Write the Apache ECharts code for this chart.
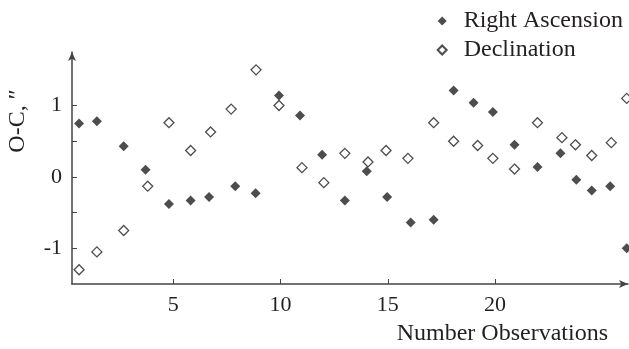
<!DOCTYPE html>
<html>
<head>
<meta charset="utf-8">
<script src="https://cdn.jsdelivr.net/npm/echarts@6/dist/echarts.min.js"></script>
<style>
  html, body { margin: 0; padding: 0; background: #fff; }
  #chart { width: 629px; height: 349px; }
</style>
</head>
<body>
<div id="chart"></div>
<script>
const raObs = [0.61, 1.44, 2.69, 3.71, 4.80, 5.81, 6.67, 7.89, 8.84, 9.93, 10.91, 11.94, 13.0, 14.02,
  14.97, 16.07, 17.14, 18.07, 19.0, 19.9, 20.91, 21.98, 23.05, 23.79, 24.51, 25.37, 26.14]
const raValues = [0.75, 0.78, 0.43, 0.10, -0.38, -0.33, -0.28, -0.13, -0.23, 1.14, 0.86, 0.31, -0.33, 0.08,
  -0.28, -0.64, -0.60, 1.21, 1.04, 0.91, 0.45, 0.14, 0.33, -0.04, -0.19, -0.13, -1.00]

const decObs = [0.61, 1.44, 2.69, 3.81, 4.80, 5.81, 6.74, 7.70, 8.86, 9.93, 11.0, 12.02, 13.0, 14.08,
  14.92, 15.94, 17.14, 18.07, 19.19, 19.9, 20.91, 21.98, 23.12, 23.75, 24.51, 25.42, 26.14]
const decValues = [-1.30, -1.05, -0.75, -0.13, 0.76, 0.37, 0.63, 0.95, 1.50, 1.00, 0.13, -0.08, 0.33, 0.21,
  0.37, 0.26, 0.76, 0.50, 0.44, 0.26, 0.11, 0.76, 0.55, 0.45, 0.30, 0.48, 1.10]

const xTicks = [5, 10, 15, 20]
const yTicks = [-1, -0.5, 0, 0.5, 1]
const yLabels = [-1, 0, 1]

const ink = '#231f20'
const font = 'Liberation Serif'

const chart = echarts.init(document.getElementById('chart'))

const zip = (xs, ys) => xs.map((x, i) => [x, ys[i]])

chart.setOption({
  animation: false,
  grid: { left: 72, right: 1, top: 52, bottom: 65 },
  legend: {
    orient: 'vertical',
    right: 1,
    top: 4,
    itemWidth: 9,
    itemHeight: 9,
    itemGap: 5,
    textStyle: { fontFamily: font, fontSize: 24, color: ink, lineHeight: 24, padding: [0, 0, 0, 12] },
    data: ['Right Ascension', 'Declination']
  },
  xAxis: {
    type: 'value',
    min: 0.28,
    max: 26.2,
    name: 'Number Observations',
    nameLocation: 'end',
    nameGap: -20,
    nameTextStyle: { fontFamily: font, fontSize: 24, color: ink, align: 'right', verticalAlign: 'top', padding: [38, 0, 0, 0] },
    axisLine: { onZero: false, lineStyle: { color: '#444', width: 1.5 }, symbol: ['none', 'arrow'], symbolSize: [6, 9] },
    axisTick: { inside: true, length: 5, customValues: xTicks, lineStyle: { color: '#444' } },
    axisLabel: { customValues: xTicks, fontFamily: font, fontSize: 22, color: ink, margin: 10 },
    splitLine: { show: false }
  },
  yAxis: {
    type: 'value',
    min: -1.5,
    max: 1.75,
    axisLine: { show: true, onZero: false, lineStyle: { color: '#444', width: 1.5 }, symbol: ['none', 'arrow'], symbolSize: [6, 9] },
    axisTick: { show: true, inside: true, length: 5, customValues: yTicks, lineStyle: { color: '#444' } },
    axisLabel: { customValues: yLabels, fontFamily: font, fontSize: 22, color: ink, margin: 10 },
    splitLine: { show: false }
  },
  graphic: [{
    type: 'text',
    x: 18,
    y: 121,
    rotation: Math.PI / 2,
    style: {
      text: 'O-C, \u2033',
      fontFamily: font,
      fontSize: 24,
      fill: ink,
      align: 'center',
      verticalAlign: 'middle'
    }
  }],
  series: [
    {
      name: 'Right Ascension',
      type: 'scatter',
      symbol: 'diamond',
      symbolSize: 10,
      itemStyle: { color: ink },
      data: zip(raObs, raValues)
    },
    {
      name: 'Declination',
      type: 'scatter',
      symbol: 'diamond',
      symbolSize: 10,
      itemStyle: { color: '#fff', borderColor: ink, borderWidth: 1.3 },
      data: zip(decObs, decValues)
    }
  ]
})
</script>
</body>
</html>
